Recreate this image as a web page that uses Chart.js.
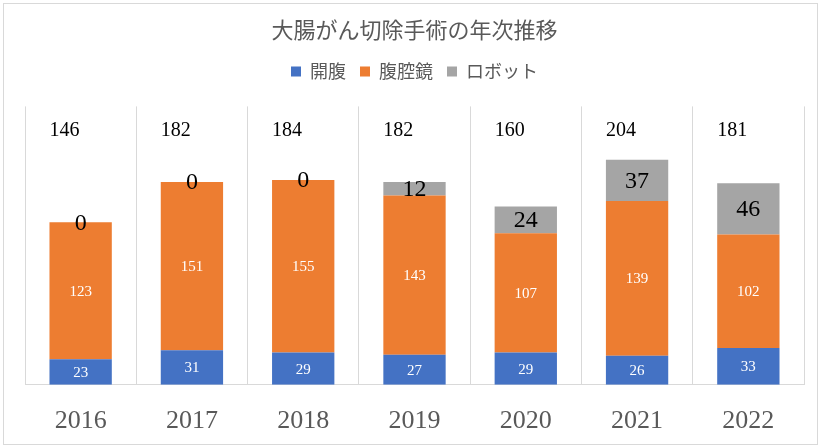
<!DOCTYPE html>
<html>
<head>
<meta charset="utf-8">
<script src="https://cdn.jsdelivr.net/npm/chart.js@4"></script>
<style>
  html, body { margin: 0; padding: 0; background: #fff; }
  #wrap { position: relative; width: 824px; height: 447px; }
  #frame { position: absolute; left: 3px; top: 3px; width: 813px; height: 440px; border: 1px solid #d9d9d9; pointer-events: none; }
</style>
</head>
<body>
<div id="wrap">
  <canvas id="chart" width="824" height="447"></canvas>
  <div id="frame"></div>
</div>
<script>
const years = ["2016", "2017", "2018", "2019", "2020", "2021", "2022"];
const openSurgery = [23, 31, 29, 27, 29, 26, 33];
const laparoscopic = [123, 151, 155, 143, 107, 139, 102];
const robotic = [0, 0, 0, 12, 24, 37, 46];
const totals = [146, 182, 184, 182, 160, 204, 181];

const serif = "'Liberation Serif', 'DejaVu Serif', serif";
const jp = "'Noto Sans CJK JP', 'Noto Sans', sans-serif";

// extra gap under the legend, like the excel chart
const legendGap = {
  id: "legendGap",
  beforeInit(chart) {
    const fit = chart.legend.fit;
    chart.legend.fit = function () {
      fit.bind(chart.legend)();
      this.height += 16;
    };
  }
};

// segment values and the yearly totals drawn as text
const labelPlugin = {
  id: "segLabels",
  afterDatasetsDraw(chart) {
    const ctx = chart.ctx;
    ctx.save();
    ctx.textAlign = "center";
    ctx.textBaseline = "middle";
    chart.data.datasets.forEach((ds, di) => {
      const meta = chart.getDatasetMeta(di);
      meta.data.forEach((bar, i) => {
        const mid = (bar.y + bar.base) / 2;
        if (di === 2) {
          ctx.fillStyle = "#000";
          ctx.font = "24px " + serif;
        } else {
          ctx.fillStyle = "#fff";
          ctx.font = "15px " + serif;
        }
        ctx.fillText(String(ds.data[i]), bar.x, mid + 1);
      });
    });
    const y = chart.scales.y.getPixelForValue(228);
    const first = chart.getDatasetMeta(0).data;
    ctx.textAlign = "left";
    ctx.fillStyle = "#000";
    ctx.font = "20px " + serif;
    first.forEach((bar, i) => {
      ctx.fillText(String(totals[i]), bar.x - bar.width / 2, y);
    });
    ctx.restore();
  }
};

new Chart(document.getElementById("chart"), {
  type: "bar",
  data: {
    labels: years,
    datasets: [
      { label: "開腹", data: openSurgery, backgroundColor: "#4472C4" },
      { label: "腹腔鏡", data: laparoscopic, backgroundColor: "#ED7D31" },
      { label: "ロボット", data: robotic, backgroundColor: "#A5A5A5" }
    ]
  },
  options: {
    responsive: false,
    animation: false,
    layout: { padding: { left: 25, right: 20, top: 8, bottom: -11 } },
    datasets: { bar: { categoryPercentage: 1, barPercentage: 0.56 } },
    plugins: {
      title: {
        display: true,
        text: "大腸がん切除手術の年次推移",
        color: "#595959",
        font: { family: jp, size: 22, weight: "normal" },
        padding: { top: 8, bottom: 6 }
      },
      legend: {
        labels: {
          boxWidth: 10,
          boxHeight: 10,
          color: "#595959",
          font: { family: jp, size: 18 },
          padding: 14
        }
      },
      tooltip: { enabled: false }
    },
    scales: {
      x: {
        stacked: true,
        grid: { offset: true, color: "#d9d9d9", drawTicks: false },
        border: { color: "#d9d9d9" },
        ticks: { color: "#595959", font: { family: serif, size: 26 }, padding: 21 }
      },
      y: {
        stacked: true,
        display: false,
        min: 0,
        max: 250
      }
    }
  },
  plugins: [legendGap, labelPlugin]
});
</script>
</body>
</html>
